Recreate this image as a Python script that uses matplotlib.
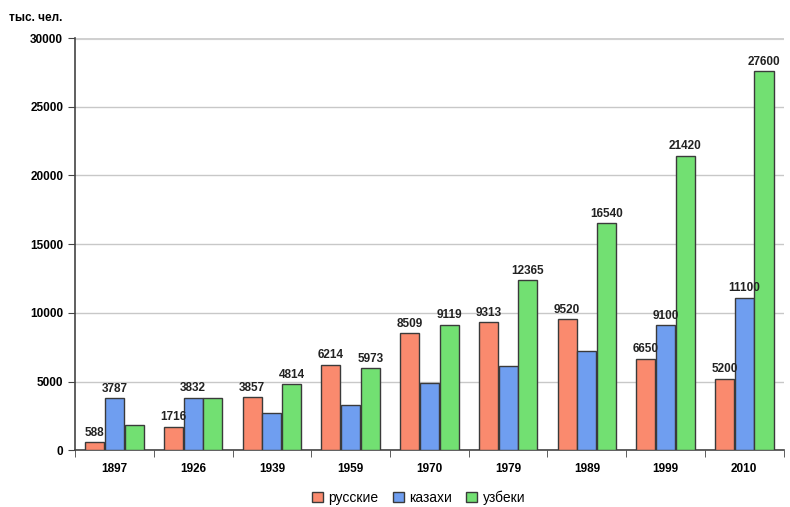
import numpy as np
from matplotlib import pyplot as plt
from matplotlib.ticker import FixedLocator

plt.rcParams['font.family'] = ['Liberation Sans', 'DejaVu Sans']

# data (тыс. чел.)
years = ['1897', '1926', '1939', '1959', '1970', '1979', '1989', '1999', '2010']
russians = [588, 1716, 3857, 6214, 8509, 9313, 9520, 6650, 5200]
kazakhs = [3787, 3832, 2700, 3300, 4900, 6100, 7200, 9100, 11100]
uzbeks = [1800, 3832, 4814, 5973, 9119, 12365, 16540, 21420, 27600]

# which bars carry a value label
lab_r = [True] * 9
lab_k = [True, True, False, False, False, False, False, True, True]
lab_u = [False, False, True, True, True, True, True, True, True]

fig = plt.figure(figsize=(7.9, 5.07), dpi=100)
ax = fig.add_axes([0.095, 0.112, 0.897, 0.813])

x = np.arange(len(years))
w = 0.25
series = [(russians, '#fa8a6e', 'русские', lab_r, -w),
          (kazakhs, '#6f9ef0', 'казахи', lab_k, 0),
          (uzbeks, '#72e072', 'узбеки', lab_u, w)]

for vals, col, name, labs, off in series:
    ax.bar(x + off, vals, w * 0.97, color=col, edgecolor='#3a3a3a', linewidth=1.0,
           label=name, zorder=3)
    for xi, v, lb in zip(x, vals, labs):
        if lb:
            ax.text(xi + off, v + 250, str(v), ha='center', va='bottom',
                    fontsize=8.5, fontweight='bold', color='#222222', zorder=4)

ax.set_xlim(-0.5, len(years) - 0.5)
ax.set_ylim(0, 30000)
ax.set_yticks(np.arange(0, 30001, 5000))
ax.yaxis.grid(True, color='#c8c8c8', linewidth=1, zorder=0)
ax.set_axisbelow(True)

ax.set_xticks(x)
ax.set_xticklabels(years, fontsize=8.5, fontweight='bold')
ax.xaxis.set_minor_locator(FixedLocator(np.arange(-0.5, len(years), 1)))
ax.tick_params(axis='x', which='major', length=0, pad=9)
ax.tick_params(axis='x', which='minor', length=5, color='#444444')
ax.tick_params(axis='y', length=5, color='#444444', labelsize=8.5)
for t in ax.get_yticklabels():
    t.set_fontweight('bold')

for s in ['top', 'right']:
    ax.spines[s].set_visible(False)
ax.spines['left'].set_color('#444444')
ax.spines['bottom'].set_color('#444444')
ax.spines['left'].set_linewidth(1.2)
ax.spines['bottom'].set_linewidth(1.2)
ax.axhline(30000, color='#d0d0d0', linewidth=3, zorder=1)

fig.text(0.012, 0.965, 'тыс. чел.', fontsize=8.5, fontweight='bold', ha='left', va='center')

fig.legend(loc='lower center', ncol=3, frameon=False, fontsize=10,
           bbox_to_anchor=(0.53, -0.02), handlelength=0.8, handleheight=0.8,
           columnspacing=1.0, handletextpad=0.4)

fig.savefig('out.png', dpi=100)
